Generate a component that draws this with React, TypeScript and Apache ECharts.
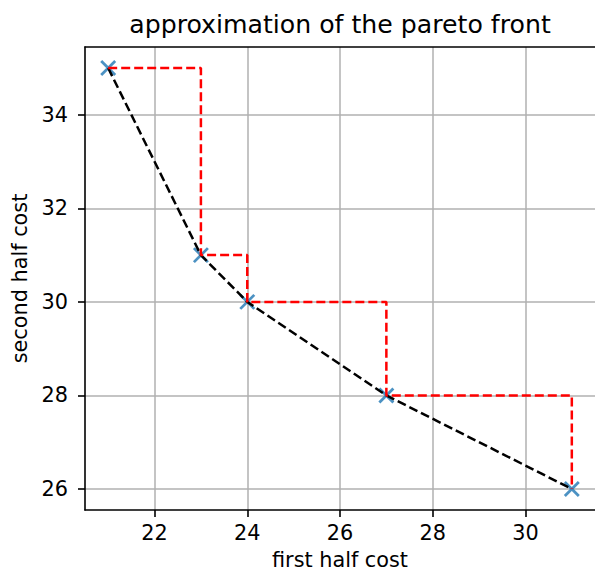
import React, { useEffect, useRef } from "react";
import * as echarts from "echarts";

const firstHalfCost = [21, 23, 24, 27, 31];
const secondHalfCost = [35, 31, 30, 28, 26];
const xTickValues = [22, 24, 26, 28, 30];
const yTickValues = [26, 28, 30, 32, 34];
const titleText = "approximation of the pareto front";
const xLabelText = "first half cost";
const yLabelText = "second half cost";

const FONT = "DejaVu Sans";

export default function App() {
  const ref = useRef<HTMLDivElement>(null);
  useEffect(() => {
    if (!ref.current) return;
    const chart = echarts.init(ref.current, null, { renderer: "svg" });
    const pts = firstHalfCost.map((x, i) => [x, secondHalfCost[i]]);
    const labelStyle = { fontSize: 20.8, color: "#000", fontFamily: FONT };
    chart.setOption({
      animation: false,
      grid: { left: 85, top: 47, width: 516, height: 463 },
      xAxis: [
        {
          type: "value",
          min: 20.5,
          max: 31.5,
          axisLine: { show: true, onZero: false, lineStyle: { color: "#000", width: 1.6 } },
          axisTick: { show: true, customValues: xTickValues, length: 7, lineStyle: { color: "#000", width: 1.6 } },
          axisLabel: { customValues: xTickValues, margin: 12, ...labelStyle },
          splitLine: { show: true, lineStyle: { color: "#b0b0b0", width: 1.5 } },
        },
        {
          type: "value",
          position: "top",
          min: 20.5,
          max: 31.5,
          axisLine: { show: true, onZero: false, lineStyle: { color: "#000", width: 1.6 } },
          axisTick: { show: false },
          axisLabel: { show: false },
          splitLine: { show: false },
        },
      ],
      yAxis: {
        type: "value",
        min: 25.55,
        max: 35.45,
        axisLine: { show: true, onZero: false, lineStyle: { color: "#000", width: 1.6 } },
        axisTick: { show: true, customValues: yTickValues, length: 7, lineStyle: { color: "#000", width: 1.6 } },
        axisLabel: { customValues: yTickValues, margin: 17, ...labelStyle },
        splitLine: { show: true, lineStyle: { color: "#b0b0b0", width: 1.5 } },
      },
      graphic: [
        {
          type: "text",
          x: 340,
          y: 24,
          style: { text: titleText, fontSize: 25.2, fontFamily: FONT, fill: "#000", align: "center", verticalAlign: "middle" },
        },
        {
          type: "text",
          x: 340,
          y: 560,
          style: { text: xLabelText, fontSize: 20.8, fontFamily: FONT, fill: "#000", align: "center", verticalAlign: "middle" },
        },
        {
          type: "text",
          x: 20,
          y: 278.5,
          rotation: Math.PI / 2,
          style: { text: yLabelText, fontSize: 20.8, fontFamily: FONT, fill: "#000", align: "center", verticalAlign: "middle" },
        },
      ],
      series: [
        {
          type: "scatter",
          data: pts,
          symbol: "path://M0,0L10,10M10,0L0,10",
          symbolSize: 14,
          itemStyle: { color: "transparent", borderColor: "#1f77b4", borderWidth: 2.8 },
          z: 1,
          silent: true,
        },
        {
          type: "line",
          data: pts,
          showSymbol: false,
          symbol: "none",
          lineStyle: { color: "#000", width: 2.5, type: [9, 4] },
          z: 2,
          silent: true,
        },
        {
          type: "line",
          data: pts,
          step: "end",
          showSymbol: false,
          symbol: "none",
          lineStyle: { color: "#ff0000", width: 2.5, type: [9, 4] },
          z: 3,
          silent: true,
        },
      ],
    });
    return () => chart.dispose();
  }, []);
  return <div ref={ref} style={{ position: "fixed", left: 0, top: 0, width: 595, height: 571, background: "#fff" }} />;
}
